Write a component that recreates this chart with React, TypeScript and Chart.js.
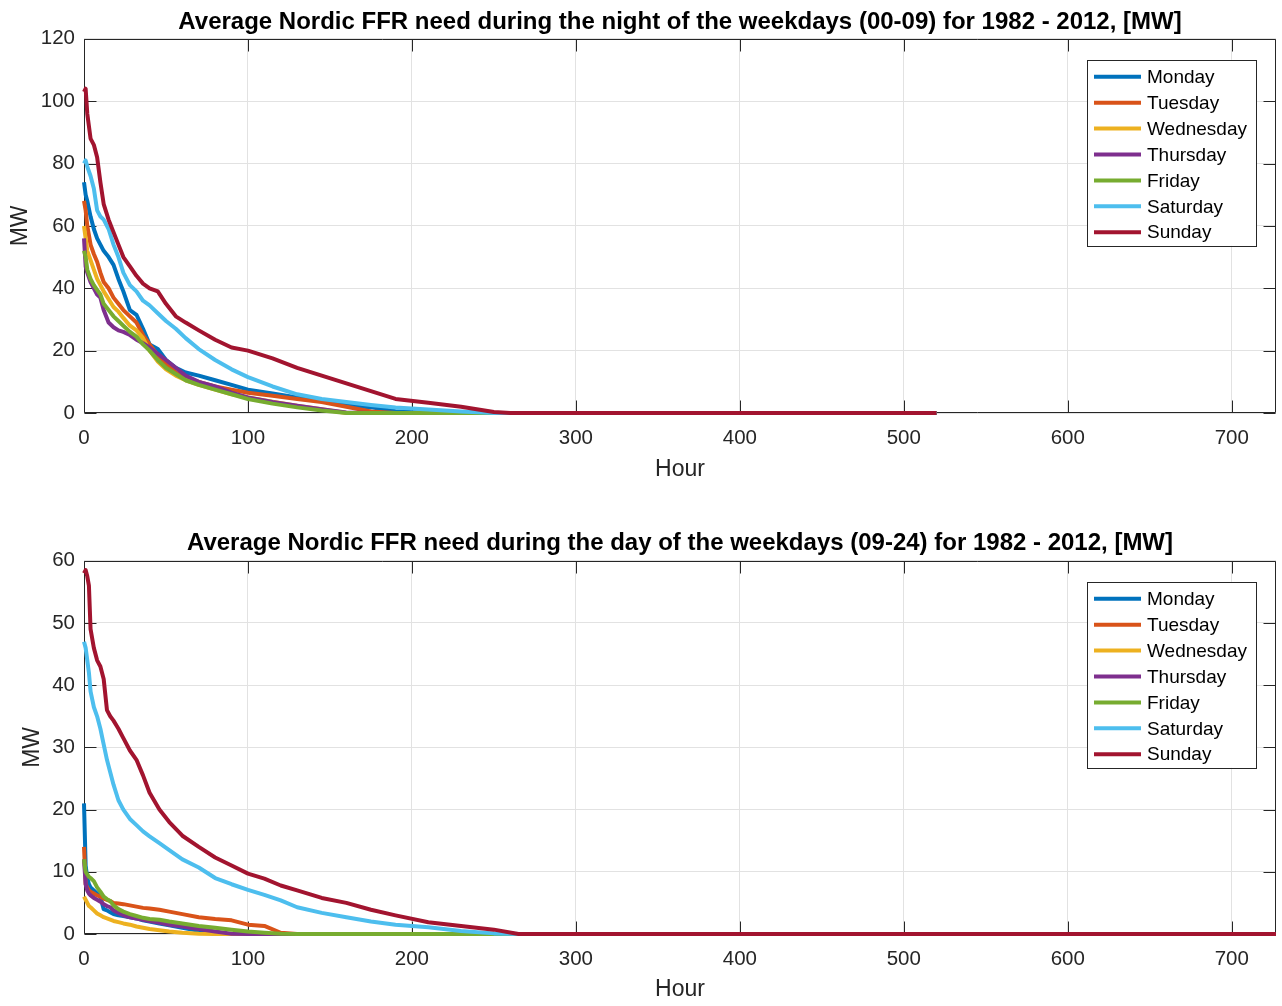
import React, { useEffect, useRef } from "react";
import { Chart, registerables } from "chart.js";

Chart.register(...registerables);

// ---- data ----
const seriesNames = ["Monday", "Tuesday", "Wednesday", "Thursday", "Friday", "Saturday", "Sunday"];
const seriesColors = ["#0072BD", "#D95319", "#EDB120", "#7E2F8E", "#77AC30", "#4DBEEE", "#A2142F"];

const hourTicks = [0, 100, 200, 300, 400, 500, 600, 700];
const nightMWTicks = [0, 20, 40, 60, 80, 100, 120];
const dayMWTicks = [0, 10, 20, 30, 40, 50, 60];

const nightTitle = "Average Nordic FFR need during the night of the weekdays (00-09) for 1982 - 2012, [MW]";
const dayTitle = "Average Nordic FFR need during the day of the weekdays (09-24) for 1982 - 2012, [MW]";

const nightHours = [0, 1, 2, 4, 6, 8, 10, 12, 15, 18, 21, 24, 28, 32, 36, 40, 45, 50, 56, 62, 70, 80, 90, 100, 115, 130, 145, 160, 175, 190, 210, 230, 250, 260, 520];
const nightMonday = [74, 70, 68, 63, 59, 56, 54, 52, 50, 47.5, 43, 39, 33, 31.5, 27, 22, 20.5, 17, 14.5, 13, 12, 10.5, 9, 7.5, 6.3, 5, 3.8, 2.6, 1.8, 0.6, 0, 0, 0, 0, 0];
const nightTuesday = [68, 65, 60, 54, 51, 48.5, 45, 42, 40, 37, 35, 33, 31, 29, 25, 22, 18.5, 16, 13, 11.5, 10, 8.5, 7.5, 6.5, 5.5, 4.5, 3.5, 2, 0.5, 0, 0, 0, 0, 0, 0];
const nightWednesday = [60, 56, 52, 49, 46, 43, 41, 39, 36.5, 34, 32.5, 30.5, 28, 26.5, 24, 20, 16.5, 14, 12, 10.5, 9, 7.5, 6, 5, 3.6, 2.3, 1.2, 0, 0, 0, 0, 0, 0, 0, 0];
const nightThursday = [56, 47, 45, 42, 40, 38, 37, 33, 29, 27.5, 26.5, 26, 25, 23.5, 22.4, 21, 19, 17, 14.5, 12, 10, 8.5, 6.5, 5, 3.5, 2.3, 1.2, 0.2, 0, 0, 0, 0, 0, 0, 0];
const nightFriday = [52, 50, 46, 43, 41, 39.5, 38, 35, 33, 31, 29.5, 28, 26, 24.5, 22, 20, 17, 14.5, 12.5, 10.5, 9, 7.5, 6, 4.5, 3, 1.8, 0.8, 0, 0, 0, 0, 0, 0, 0, 0];
const nightSaturday = [80, 81, 79, 76, 72, 65, 63, 62, 59, 54, 50, 45, 41, 39, 36, 34.5, 32, 29.5, 27, 24, 20.5, 17, 14, 11.5, 8.5, 6, 4.5, 3.5, 2.6, 1.8, 1.1, 0.5, 0, 0, 0];
const nightSunday = [103, 104, 96, 88, 86, 82, 74, 67, 62, 58, 54, 50, 47, 44, 41.5, 40, 39, 35, 31, 29, 26.5, 23.5, 21, 20, 17.5, 14.5, 12, 9.5, 7, 4.5, 3.3, 2, 0.3, 0, 0];

const dayHours = [0, 1, 2, 3, 4, 6, 8, 10, 12, 14, 16, 18, 21, 24, 28, 32, 36, 40, 46, 52, 60, 70, 80, 90, 100, 110, 120, 130, 145, 160, 175, 190, 210, 230, 250, 265, 727];
const dayMonday = [21, 11, 9, 8, 7.5, 7, 6.5, 6, 4, 3.8, 3.5, 3.2, 3, 2.9, 2.7, 2.5, 2.2, 2, 1.7, 1.4, 1, 0.5, 0, 0, 0, 0, 0, 0, 0, 0, 0, 0, 0, 0, 0, 0, 0];
const dayTuesday = [14, 8, 7.5, 7, 6.8, 6.5, 6.2, 6, 5.7, 5.5, 5.3, 5, 4.9, 4.8, 4.6, 4.4, 4.2, 4.1, 3.9, 3.6, 3.2, 2.7, 2.4, 2.2, 1.5, 1.3, 0.2, 0, 0, 0, 0, 0, 0, 0, 0, 0, 0];
const dayWednesday = [6, 5.5, 5, 4.5, 4.3, 3.8, 3.3, 3, 2.7, 2.5, 2.3, 2.1, 1.9, 1.7, 1.5, 1.2, 1, 0.8, 0.6, 0.4, 0.2, 0.05, 0, 0, 0, 0, 0, 0, 0, 0, 0, 0, 0, 0, 0, 0, 0];
const dayThursday = [12, 8, 7, 6.5, 6.2, 5.8, 5.5, 5.2, 4.8, 4.5, 4.3, 3.8, 3.4, 3, 2.7, 2.5, 2.3, 2.1, 1.8, 1.5, 1.2, 0.8, 0.4, 0.05, 0, 0, 0, 0, 0, 0, 0, 0, 0, 0, 0, 0, 0];
const dayFriday = [12, 10, 9.6, 9.2, 9, 8.5, 7.5, 6.8, 6, 5.6, 5.3, 4.6, 4, 3.6, 3.2, 2.9, 2.6, 2.4, 2.3, 2, 1.7, 1.3, 1, 0.7, 0.4, 0.2, 0.05, 0, 0, 0, 0, 0, 0, 0, 0, 0, 0];
const daySaturday = [47, 46, 44, 42, 39, 36.5, 35, 33, 30.5, 28, 26, 24, 21.5, 20, 18.5, 17.5, 16.5, 15.7, 14.6, 13.5, 12, 10.7, 9, 8, 7.1, 6.3, 5.4, 4.3, 3.4, 2.7, 2, 1.5, 1.1, 0.5, 0.1, 0, 0];
const daySunday = [58, 58.5, 57.5, 56, 49, 46, 44, 43, 41, 36, 35, 34.3, 33, 31.5, 29.5, 28, 25.5, 22.7, 20, 18, 15.8, 14, 12.3, 11, 9.7, 8.9, 7.8, 7, 5.8, 5, 3.9, 3, 1.9, 1.3, 0.7, 0, 0];

const nightSeries = [nightMonday, nightTuesday, nightWednesday, nightThursday, nightFriday, nightSaturday, nightSunday];
const daySeries = [dayMonday, dayTuesday, dayWednesday, dayThursday, dayFriday, daySaturday, daySunday];

// ---- styling helpers ----
const FONT = "'Liberation Sans', Arial, Helvetica, sans-serif";
const AXIS_COLOR = "#262626";

const framePlugin = {
  id: "matlabFrame",
  beforeDatasetsDraw(chart: any) {
    const { ctx, chartArea: a, scales } = chart;
    const tl = 12;
    ctx.save();
    ctx.strokeStyle = AXIS_COLOR;
    ctx.lineWidth = 1;
    ctx.beginPath();
    const L = Math.round(a.left) + 0.5;
    const R = Math.round(a.right) - 0.5;
    const T = Math.round(a.top) + 0.5;
    const B = Math.round(a.bottom) - 0.5;
    ctx.rect(L, T, R - L, B - T);
    for (const t of scales.x.ticks) {
      const px = Math.round(scales.x.getPixelForValue(t.value)) + 0.5;
      ctx.moveTo(px, B);
      ctx.lineTo(px, B - tl);
      ctx.moveTo(px, T);
      ctx.lineTo(px, T + tl);
    }
    for (const t of scales.y.ticks) {
      const py = Math.round(scales.y.getPixelForValue(t.value)) + 0.5;
      ctx.moveTo(L, py);
      ctx.lineTo(L + tl, py);
      ctx.moveTo(R, py);
      ctx.lineTo(R - tl, py);
    }
    ctx.stroke();
    ctx.restore();
  },
};

const legendPlugin = {
  id: "matlabLegend",
  afterDatasetsDraw(chart: any) {
    const { ctx, chartArea: a } = chart;
    const w = 169;
    const h = 186;
    const left = a.right - 20 - w;
    const top = a.top + 21;
    ctx.save();
    ctx.fillStyle = "#ffffff";
    ctx.fillRect(left, top, w, h);
    ctx.strokeStyle = AXIS_COLOR;
    ctx.lineWidth = 1;
    ctx.strokeRect(Math.round(left) + 0.5, Math.round(top) + 0.5, w, h);
    ctx.font = `19px ${FONT}`;
    ctx.textBaseline = "middle";
    ctx.textAlign = "left";
    chart.data.datasets.forEach((ds: any, i: number) => {
      const cy = top + 17 + i * 25.9;
      ctx.strokeStyle = ds.borderColor;
      ctx.lineWidth = 4;
      ctx.beginPath();
      ctx.moveTo(left + 7, cy);
      ctx.lineTo(left + 54, cy);
      ctx.stroke();
      ctx.fillStyle = "#000000";
      ctx.fillText(ds.label, left + 60, cy + 1);
    });
    ctx.restore();
  },
};

type Cfg = {
  title: string;
  hours: number[];
  series: number[][];
  yTicks: number[];
  titlePad: { top: number; bottom: number };
  padLeft: number;
  xHeight: number;
  xTitlePad: number;
};

function makeChart(canvas: HTMLCanvasElement, cfg: Cfg) {
  const yMax = cfg.yTicks[cfg.yTicks.length - 1];
  return new Chart(canvas, {
    type: "line",
    data: {
      datasets: cfg.series.map((vals, i) => ({
        label: seriesNames[i],
        data: vals.map((v, j) => ({ x: cfg.hours[j], y: v })),
        borderColor: seriesColors[i],
        backgroundColor: seriesColors[i],
        borderWidth: 4,
        pointRadius: 0,
        tension: 0,
        fill: false,
        clip: false as any,
        order: cfg.series.length - i,
        borderJoinStyle: "round" as const,
      })),
    },
    plugins: [framePlugin, legendPlugin],
    options: {
      animation: false,
      responsive: false,
      devicePixelRatio: 1,
      layout: { padding: { left: cfg.padLeft, right: 6, top: 0, bottom: 0 } },
      plugins: {
        legend: { display: false },
        tooltip: { enabled: false },
        title: {
          display: true,
          text: cfg.title,
          fullSize: false,
          color: "#000000",
          font: { family: FONT, size: 24, weight: "bold", lineHeight: 1.2 },
          padding: cfg.titlePad,
        },
      },
      scales: {
        x: {
          type: "linear",
          min: 0,
          max: 727,
          afterBuildTicks: (s: any) => {
            s.ticks = hourTicks.map((v) => ({ value: v }));
          },
          afterFit: (s: any) => {
            s.height = cfg.xHeight;
          },
          ticks: {
            color: AXIS_COLOR,
            font: { family: FONT, size: 20.5 },
            padding: 13,
            maxRotation: 0,
            includeBounds: false,
          },
          grid: { color: "#e2e2e2", drawTicks: false, lineWidth: 1 },
          border: { display: false },
          title: {
            display: true,
            text: "Hour",
            color: AXIS_COLOR,
            font: { family: FONT, size: 23, lineHeight: 1.2 },
            padding: { top: 0, bottom: cfg.xTitlePad },
          },
        },
        y: {
          type: "linear",
          min: 0,
          max: yMax,
          afterBuildTicks: (s: any) => {
            s.ticks = cfg.yTicks.map((v) => ({ value: v }));
          },
          afterFit: (s: any) => {
            s.width = 84 - cfg.padLeft;
          },
          ticks: {
            color: AXIS_COLOR,
            font: { family: FONT, size: 20.5 },
            padding: 9,
          },
          grid: { color: "#e2e2e2", drawTicks: false, lineWidth: 1 },
          border: { display: false },
          title: {
            display: true,
            text: "MW",
            color: AXIS_COLOR,
            font: { family: FONT, size: 23, lineHeight: 1.2 },
            padding: { top: 0, bottom: 0 },
          },
        },
      },
    },
  } as any);
}

export default function App() {
  const topRef = useRef<HTMLCanvasElement>(null);
  const botRef = useRef<HTMLCanvasElement>(null);

  useEffect(() => {
    const c1 = makeChart(topRef.current!, {
      title: nightTitle,
      hours: nightHours,
      series: nightSeries,
      yTicks: nightMWTicks,
      titlePad: { top: 8, bottom: 2 },
      padLeft: 7,
      xHeight: 90,
      xTitlePad: 20,
    });
    const c2 = makeChart(botRef.current!, {
      title: dayTitle,
      hours: dayHours,
      series: daySeries,
      yTicks: dayMWTicks,
      titlePad: { top: 26, bottom: 3 },
      padLeft: 19,
      xHeight: 72,
      xTitlePad: 3,
    });
    return () => {
      c1.destroy();
      c2.destroy();
    };
  }, []);

  return (
    <div style={{ position: "absolute", left: 0, top: 0, width: 1282, height: 1006, background: "#ffffff" }}>
      <canvas ref={topRef} width={1282} height={503} style={{ display: "block", width: 1282, height: 503 }} />
      <canvas ref={botRef} width={1282} height={503} style={{ display: "block", width: 1282, height: 503 }} />
    </div>
  );
}
